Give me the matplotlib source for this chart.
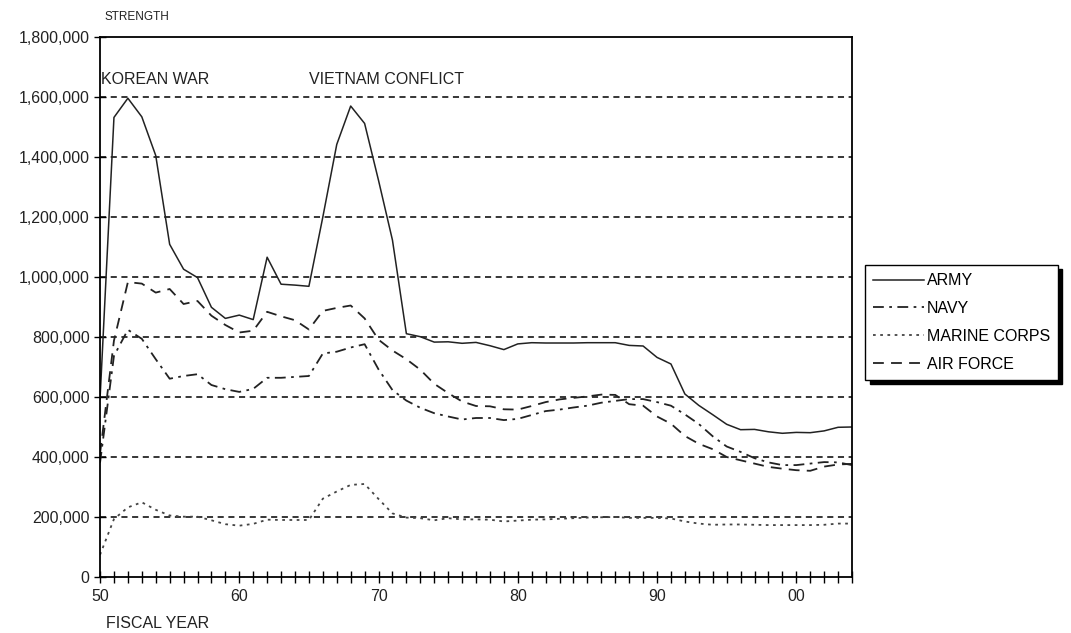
import matplotlib.pyplot as plt
import numpy as np

plt.rcParams['font.family'] = ['Liberation Sans', 'DejaVu Sans']

# fiscal years 1950-2004 (shown as 50 ... 00)
years = list(range(1950, 2005))

army = [593, 1532, 1596, 1534, 1405, 1109, 1026, 998, 899, 862,
        873, 858, 1066, 976, 973, 969, 1200, 1442, 1570, 1512,
        1322, 1123, 811, 801, 783, 784, 779, 782, 771, 758,
        777, 781, 780, 780, 780, 781, 781, 781, 772, 770,
        732, 710, 610, 572, 541, 509, 491, 492, 484, 479,
        482, 481, 487, 499, 500]
navy = [381, 737, 824, 794, 726, 661, 670, 676, 640, 626,
        617, 627, 664, 664, 667, 670, 745, 751, 765, 776,
        692, 623, 588, 564, 546, 535, 525, 530, 530, 523,
        527, 540, 553, 558, 565, 571, 581, 587, 593, 593,
        583, 571, 542, 510, 469, 435, 417, 396, 382, 373,
        373, 378, 383, 382, 373]
marines = [74, 193, 232, 249, 224, 205, 201, 201, 189, 176,
           171, 177, 191, 190, 190, 190, 261, 285, 307, 310,
           260, 212, 198, 196, 189, 196, 192, 192, 191, 185,
           188, 191, 192, 194, 196, 198, 199, 200, 197, 197,
           197, 195, 185, 178, 174, 175, 175, 174, 173, 173,
           173, 173, 174, 178, 178]
air_force = [411, 788, 983, 978, 948, 960, 910, 920, 871, 840,
             815, 821, 884, 869, 856, 825, 887, 897, 905, 862,
             791, 755, 726, 691, 644, 613, 585, 570, 569, 559,
             558, 570, 583, 592, 597, 602, 608, 607, 576, 571,
             535, 511, 470, 444, 426, 400, 389, 378, 367, 361,
             356, 354, 368, 375, 377]

x = np.array(years)
ink = '#222222'
fs = 11.5

fig = plt.figure(figsize=(10.71, 6.33), dpi=100)
ax = fig.add_axes([0.0934, 0.0885, 0.7021, 0.853])

ax.plot(x, np.array(army) * 1000, color=ink, lw=1.1, ls='-', label='ARMY')
ax.plot(x, np.array(navy) * 1000, color=ink, lw=1.3, ls=(0, (6, 3, 1.5, 3)), label='NAVY')
ax.plot(x, np.array(marines) * 1000, color='#444444', lw=1.3, ls=(0, (1.5, 2.5)), label='MARINE CORPS')
ax.plot(x, np.array(air_force) * 1000, color=ink, lw=1.3, ls=(0, (6, 4)), label='AIR FORCE')

ax.set_xlim(1950, 2004)
ax.set_ylim(0, 1800000)

ax.set_yticks(np.arange(0, 1800001, 200000))
ax.set_yticklabels([f'{v:,}' for v in range(0, 1800001, 200000)])
ax.set_xticks(np.arange(1950, 2005, 1), minor=True)
ax.set_xticks(np.arange(1950, 2001, 10))
ax.set_xticklabels([f'{y % 100:02d}' for y in range(1950, 2001, 10)])

ax.tick_params(axis='both', which='both', direction='inout', color='black',
               labelsize=fs, labelcolor='#222222')
ax.tick_params(axis='x', which='both', length=9, width=1)
ax.tick_params(axis='x', which='major', pad=4)
ax.tick_params(axis='y', length=9, width=1, pad=3)

for g in range(200000, 1800000, 200000):
    ax.axhline(g, color='black', lw=1.1, ls=(0, (4, 3)), zorder=0)

for s in ax.spines.values():
    s.set_linewidth(1.3)
    s.set_color('black')

fig.text(0.098, 0.968, 'STRENGTH', fontsize=8.5, color='#222222')
fig.text(0.099, 0.008, 'FISCAL YEAR', fontsize=fs, color='#222222')
ax.text(1950.1, 1635000, 'KOREAN WAR', fontsize=fs, color='#222222', va='bottom')
ax.text(1965.0, 1635000, 'VIETNAM CONFLICT', fontsize=fs, color='#222222', va='bottom')

leg = fig.legend(loc='upper left', bbox_to_anchor=(0.808, 0.581), fontsize=fs,
                 frameon=True, fancybox=False, edgecolor='black', handlelength=3.2,
                 handletextpad=0.15, labelspacing=0.8, borderpad=0.5,
                 borderaxespad=0,
                 shadow={'color': 'black', 'alpha': 1, 'ox': 3, 'oy': -3})
leg.get_frame().set_linewidth(1.0)

fig.savefig('out.png', dpi=100)
